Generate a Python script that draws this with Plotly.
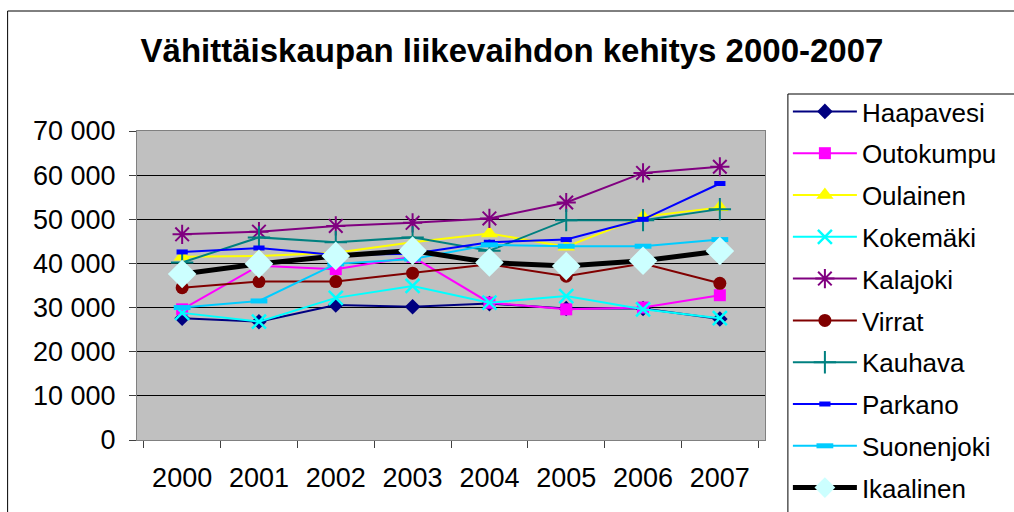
import plotly.graph_objects as go

years = ["2000", "2001", "2002", "2003", "2004", "2005", "2006", "2007"]
haapavesi = [27600, 26800, 30600, 30200, 30900, 29800, 29800, 27400]
outokumpu = [29600, 39500, 38700, 41500, 31100, 29600, 30000, 32800]
oulainen = [41500, 41700, 42400, 44800, 46800, 43800, 50600, 52700]
kokemaki = [28800, 26800, 32200, 34900, 31100, 32600, 29600, 27600]
kalajoki = [46600, 47200, 48500, 49200, 50200, 53800, 60500, 61900]
virrat = [34500, 35900, 35900, 37800, 39800, 37100, 40000, 35500]
kauhava = [40200, 45900, 44800, 45900, 42900, 49800, 49800, 52300]
parkano = [42600, 43500, 41900, 42200, 44800, 45400, 50000, 58100]
suonenjoki = [30000, 31500, 39900, 41000, 44200, 43900, 43900, 45400]
ikaalinen = [37600, 39900, 41700, 42900, 40200, 39400, 40600, 42800]

series = [
    ("Haapavesi", haapavesi, "#000080", dict(symbol="diamond", size=12, color="#000080"), 2),
    ("Outokumpu", outokumpu, "#FF00FF", dict(symbol="square", size=12, color="#FF00FF"), 2),
    ("Oulainen", oulainen, "#FFFF00", dict(symbol="triangle-up", size=15, color="#FFFF00"), 2),
    ("Kokemäki", kokemaki, "#00FFFF", dict(symbol="x-thin-open", size=14, color="#00FFFF", line=dict(width=2.5, color="#00FFFF")), 2),
    ("Kalajoki", kalajoki, "#800080", dict(symbol="asterisk-open", size=16, color="#800080", line=dict(width=2, color="#800080")), 2),
    ("Virrat", virrat, "#800000", dict(symbol="circle", size=13, color="#800000"), 2),
    ("Kauhava", kauhava, "#008080", dict(symbol="cross-thin-open", size=16, color="#008080", line=dict(width=2, color="#008080")), 2),
    ("Parkano", parkano, "#0000FF", dict(symbol="line-ew-open", size=8, color="#0000FF", line=dict(width=5, color="#0000FF")), 2),
    ("Suonenjoki", suonenjoki, "#00CCFF", dict(symbol="line-ew-open", size=12, color="#00CCFF", line=dict(width=5, color="#00CCFF")), 2),
    ("Ikaalinen", ikaalinen, "#000000", dict(symbol="diamond", size=22, color="#CCFFFF"), 5),
]

fig = go.Figure()
for name, vals, col, mk, lw in series:
    fig.add_trace(go.Scatter(
        x=years, y=vals, name=name, mode="lines+markers", legendgroup=name,
        line=dict(color=col, width=lw), marker=mk,
    ))

FONT = "Liberation Sans, Arial, sans-serif"
W, H = 1014, 512
L, R, T, B = 137, 768, 131, 440
pw, ph = R - L, B - T


def px(x):
    return (x - L) / pw


def py(y):
    return (B - y) / ph


fig.update_layout(
    width=W, height=H,
    margin=dict(l=L, r=W - R, t=T, b=H - B),
    paper_bgcolor="white",
    plot_bgcolor="#C0C0C0",
    separators=". ",
    font=dict(family=FONT, size=26, color="black"),
    title=dict(
        text="<b>Vähittäiskaupan liikevaihdon kehitys 2000-2007</b>",
        x=512 / W, xref="container", xanchor="center",
        y=1 - 50 / H, yref="container", yanchor="middle",
        font=dict(family=FONT, size=33, color="black"),
    ),
    xaxis=dict(
        type="category", tickson="boundaries", ticks="outside", ticklen=7,
        tickcolor="#404040", showgrid=False, showline=True, linecolor="#808080",
        linewidth=1, mirror=True, ticklabelstandoff=14,
        tickfont=dict(family=FONT, size=27),
    ),
    yaxis=dict(
        range=[0, 70000], dtick=10000, tickformat=",d", ticks="outside", ticklen=7,
        tickcolor="#404040", showgrid=True, gridcolor="black", gridwidth=1,
        showline=True, linecolor="#808080", linewidth=1, mirror=True,
        zeroline=False, ticklabelstandoff=8,
        tickfont=dict(family=FONT, size=27),
    ),
    legend=dict(
        x=px(791), xanchor="left",
        y=py(99), yanchor="top",
        bgcolor="rgba(255,255,255,0)", borderwidth=0,
        font=dict(family=FONT, size=26, color="black"),
        itemwidth=64, tracegroupgap=5, maxheight=1000,
    ),
    showlegend=True,
    shapes=[
        dict(type="rect", xref="paper", yref="paper",
             x0=px(7), x1=px(1030), y0=py(540), y1=py(11),
             line=dict(color="black", width=1), fillcolor="rgba(0,0,0,0)", layer="below"),
        dict(type="rect", xref="paper", yref="paper",
             x0=px(791), x1=px(1030), y0=py(540), y1=py(94),
             line=dict(color="black", width=1), fillcolor="white", layer="below"),
    ],
)

fig.write_html("out.html", config={"displayModeBar": False},
               post_script="document.body.style.margin='0';")
